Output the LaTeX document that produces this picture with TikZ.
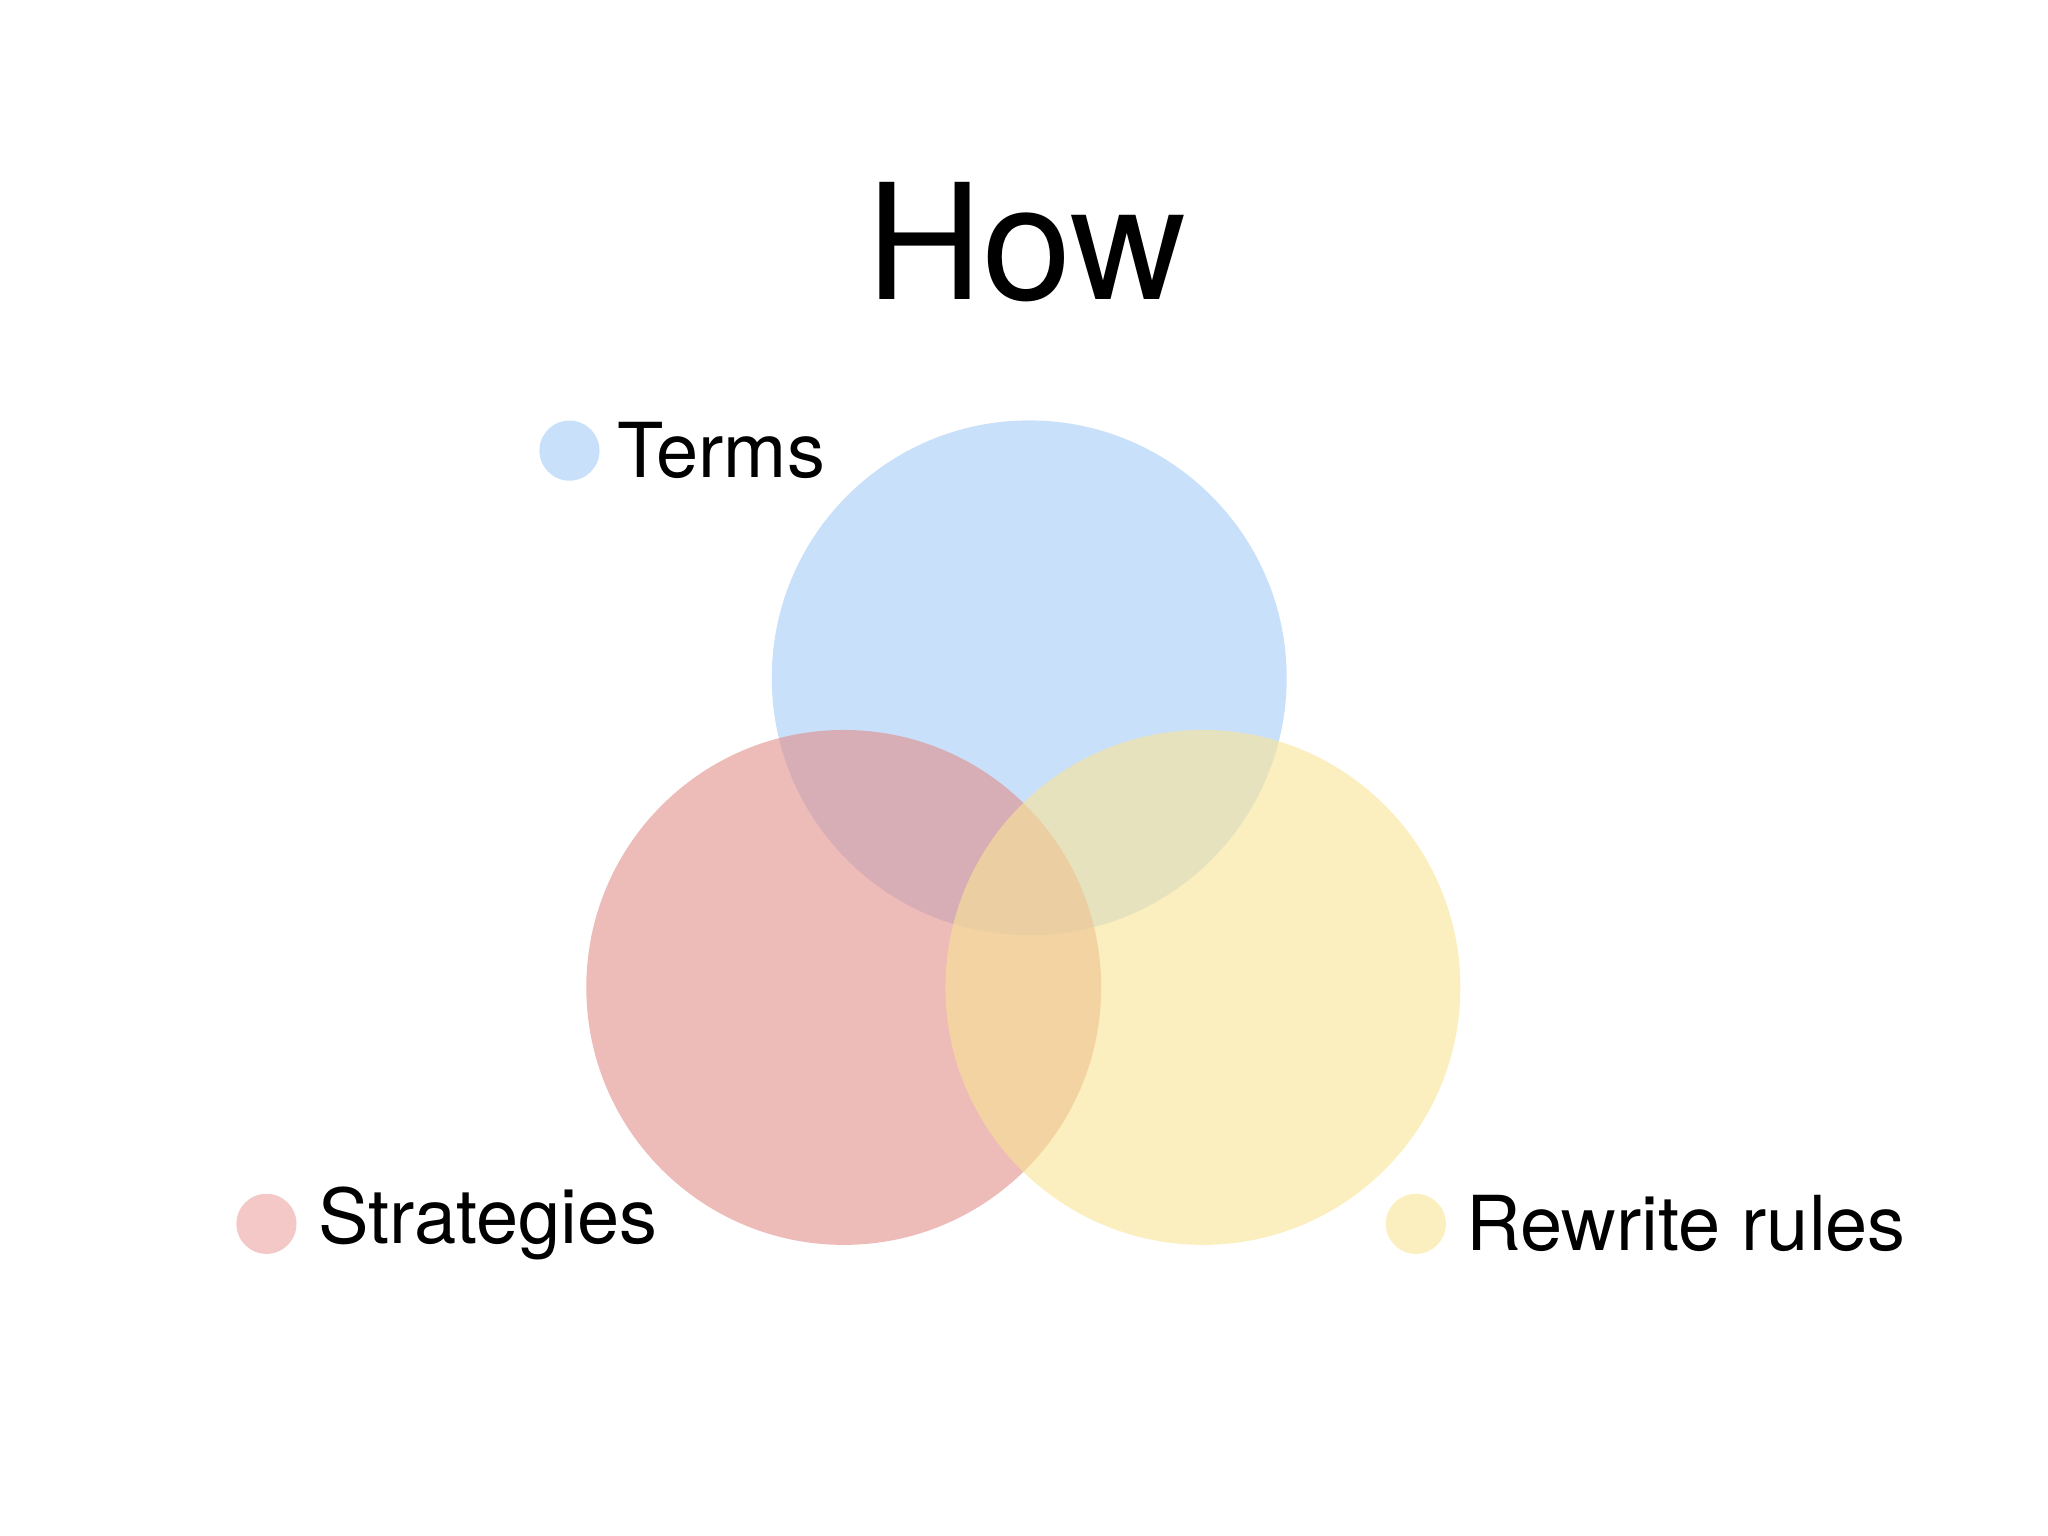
\documentclass[tikz,border=0pt]{standalone}
\usepackage{fontspec}
\setmainfont{TeX Gyre Heros}
\definecolor{cblue}{RGB}{165,203,247}
\definecolor{cred}{RGB}{225,142,137}
\definecolor{cyel}{RGB}{250,228,148}
\definecolor{dblue}{RGB}{201,224,250}
\definecolor{dred}{RGB}{245,200,200}
\definecolor{dyel}{RGB}{252,239,191}
\begin{document}
\begin{tikzpicture}[x=0.01cm,y=-0.01cm,
  venn/.style={circle,minimum size=3.94cm,inner sep=0pt,fill opacity=0.6},
  dot/.style={circle,minimum size=0.46cm,inner sep=0pt},
  lab/.style={anchor=west,font=\fontsize{16.5}{18}\selectfont,inner sep=0pt}]
\useasboundingbox (0,0) rectangle (1568,1176);
\node (title) at (786,185) {\fontsize{35}{40}\selectfont How};
\node[venn,fill=cblue] (terms) at (788,519) {};
\node[venn,fill=cred] (strat) at (646,756) {};
\node[venn,fill=cyel] (rules) at (921,756) {};
\node[dot,fill=dblue] (d1) at (436,345) {};
\node[lab] (l1) at (472,345) {Terms};
\node[dot,fill=dred] (d2) at (204,937) {};
\node[lab] (l2) at (243,937) {Strategies};
\node[dot,fill=dyel] (d3) at (1084,937) {};
\node[lab] (l3) at (1122,937) {Rewrite rules};
\end{tikzpicture}
\end{document}
